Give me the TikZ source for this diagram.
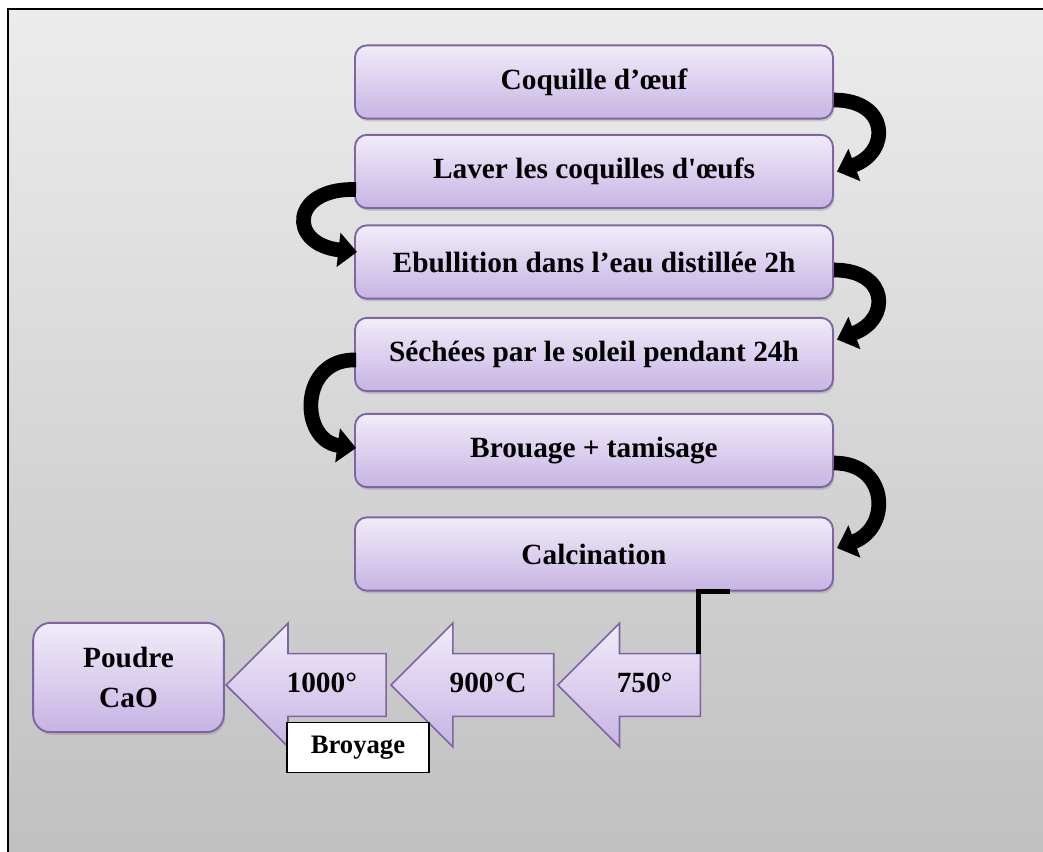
\documentclass[tikz,border=0pt]{standalone}
\usepackage{fontspec}
\setmainfont{Liberation Serif}
\usetikzlibrary{arrows.meta,calc,shapes.arrows,shadows}

\definecolor{boxtop}{RGB}{241,236,249}
\definecolor{boxbot}{RGB}{199,180,228}
\definecolor{boxline}{RGB}{128,100,162}
\definecolor{bgtop}{RGB}{236,236,236}
\definecolor{bgbot}{RGB}{191,191,191}

\begin{document}
\begin{tikzpicture}[x=0.75pt,y=-0.75pt,
	stepbox/.style={draw=boxline,line width=1.4pt,rounded corners=9pt,
		top color=boxtop,bottom color=boxbot,
		minimum width=358.5pt,minimum height=55pt,inner sep=0pt,
		font=\bfseries\fontsize{22}{30}\selectfont,
		drop shadow={opacity=0.3,shadow xshift=1pt,shadow yshift=-2pt}},
	chevron/.style={single arrow,draw=boxline,line width=1.2pt,
		top color=boxtop,bottom color=boxbot,shape border rotate=180,
		single arrow tip angle=90,single arrow head extend=22.9pt,
		text height=16pt,text depth=5pt,inner xsep=0pt,inner ysep=12.4pt,
		anchor=tip,font=\bfseries\fontsize{22}{26}\selectfont},
	curvy/.style={line width=11pt,-{Triangle[length=14pt,width=25pt]}}]

	\useasboundingbox (0,0) rectangle (1043,852);
	\clip (0,0) rectangle (1043,852);
	\path[draw=black,line width=1.6pt,top color=bgtop,bottom color=bgbot] (8,9) rectangle (1070,880);

	% etapes
	\node[stepbox] (b1) at (594,82) {Coquille d’œuf};
	\node[stepbox] (b2) at (594,171.5) {Laver les coquilles d\textquotesingle œufs};
	\node[stepbox] (b3) at (594,262) {Ebullition dans l’eau distillée 2h};
	\node[stepbox] (b4) at (594,354.5) {Séchées par le soleil pendant 24h};
	\node[stepbox] (b5) at (594,450.5) {Brouage + tamisage};
	\node[stepbox] (b6) at (594,554) {Calcination};

	\draw[curvy] ($(b1.east)+(0,18)$) .. controls +(55,0) and +(54,-20) .. ($(b2.east)+(3,0)$);
	\draw[curvy] ($(b2.west)+(2,18)$) .. controls +(-65,-2) and +(-70,-8) .. ($(b3.west)+(3,-10)$);
	\draw[curvy] ($(b3.east)+(0,8)$) .. controls +(55,0) and +(54,-20) .. ($(b4.east)+(3,-15)$);
	\draw[curvy] ($(b4.west)+(2,5.5)$) .. controls +(-57,-2) and +(-57,-8) .. ($(b5.west)+(2,-2.5)$);
	\draw[curvy] ($(b5.east)+(0,12.5)$) .. controls +(55,0) and +(54,-20) .. ($(b6.east)+(3,-6)$);

	% calcination
	\node[stepbox,minimum width=143pt,minimum height=82pt,rounded corners=13pt,align=center] (poudre) at (128.5,677.5) {Poudre\\CaO};
	\node[chevron,minimum height=120pt] (c1) at (225,685) {1000°};
	\node[chevron,minimum height=122pt] (c2) at ($(c1.tail)+(3,0)$) {900°C};
	\node[chevron,minimum height=107pt] (c3) at ($(c2.tail)+(2,0)$) {750°};

	\draw[line width=3.75pt] ($(b6.south)+(136,0)$) -| ($(c3.tail)+(-3,-31)$);

	\node[draw,fill=white,line width=0.9pt,minimum width=106.5pt,minimum height=38pt,
		font=\bfseries\fontsize{20}{24}\selectfont] (broy) at (358,747.5) {Broyage};
\end{tikzpicture}
\end{document}
